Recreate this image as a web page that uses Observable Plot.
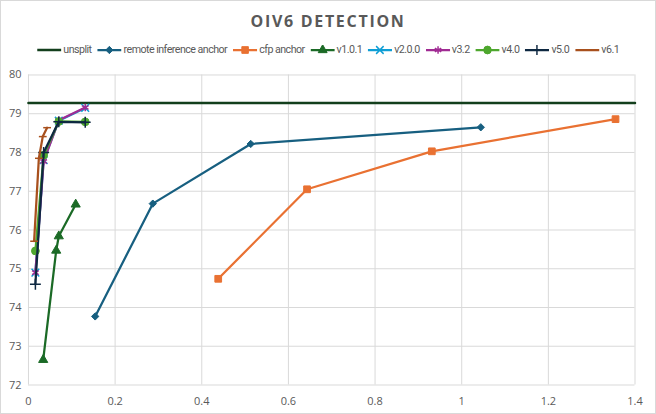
<!DOCTYPE html>
<html><head><meta charset="utf-8">
<script src="https://cdn.jsdelivr.net/npm/d3@7"></script>
<script src="https://cdn.jsdelivr.net/npm/@observablehq/plot@0.6"></script>
<style>
body{margin:0;background:#fff;font-family:"Open Sans",Lato,sans-serif;}
#chart{position:relative;width:656px;height:414px;box-sizing:border-box;border:1px solid #d9d9d9;overflow:hidden;background:#fff;}
#title{position:absolute;top:9px;left:0;width:100%;text-align:center;font-weight:bold;font-size:16px;letter-spacing:1.7px;color:#595959;}
#legendWrap{position:absolute;top:42px;left:0;width:100%;display:flex;justify-content:center;}
#legend{display:inline-flex;align-items:center;gap:6px;font-family:Roboto,"Open Sans",sans-serif;font-size:11px;color:#595959;white-space:nowrap;transform-origin:center center;}
#legend .item{display:flex;align-items:center;gap:2px;}
#plot{position:absolute;top:61px;left:-1px;}
</style></head>
<body>
<div id="chart"><div id="title">OIV6 DETECTION</div><div id="legendWrap"><div id="legend"></div></div><div id="plot"></div></div>
<script>
// ---- data ----
const seriesNames = ["unsplit","remote inference anchor","cfp anchor","v1.0.1","v2.0.0","v3.2","v4.0","v5.0","v6.1"];
const unsplitX = [0, 1.4];
const unsplitY = [79.28, 79.28];
const remoteX = [0.154, 0.287, 0.513, 1.044];
const remoteY = [73.77, 76.68, 78.22, 78.65];
const cfpX = [0.438, 0.643, 0.931, 1.355];
const cfpY = [74.74, 77.05, 78.03, 78.86];
const v101X = [0.034, 0.064, 0.070, 0.109];
const v101Y = [72.65, 75.47, 75.84, 76.66];
const v200X = [0.016, 0.035, 0.070, 0.131];
const v200Y = [74.9, 77.8, 78.82, 79.15];
const v32X = [0.016, 0.035, 0.070, 0.131];
const v32Y = [74.9, 77.77, 78.83, 79.16];
const v40X = [0.016, 0.035, 0.070, 0.131];
const v40Y = [75.46, 77.93, 78.8, 78.79];
const v50X = [0.016, 0.035, 0.070, 0.131];
const v50Y = [74.6, 78.0, 78.79, 78.78];
const v61X = [0.013, 0.024, 0.033, 0.043];
const v61Y = [75.71, 77.85, 78.41, 78.64];
const xTicks = [0, 0.2, 0.4, 0.6, 0.8, 1, 1.2, 1.4];
const yTicks = [72, 73, 74, 75, 76, 77, 78, 79, 80];

// ---- styles ----
const dash = {draw(ctx, size){const w = Math.sqrt(size) * 0.55; ctx.moveTo(-w, 0); ctx.lineTo(w, 0);}};
const styles = {
  "unsplit": {color:"#133f1c", symbol:null, filled:false, width:2.5},
  "remote inference anchor": {color:"#175f80", symbol:"diamond2", filled:true, r:3.3},
  "cfp anchor": {color:"#e97132", symbol:"square", filled:true, r:3.8},
  "v1.0.1": {color:"#1b6a26", symbol:"triangle", filled:true, r:3.4},
  "v2.0.0": {color:"#0f9ed5", symbol:"times", filled:false, r:3.6},
  "v3.2": {color:"#a02b93", symbol:"asterisk", filled:false, r:3.6},
  "v4.0": {color:"#4ea72e", symbol:"circle", filled:true, r:3.9},
  "v5.0": {color:"#0e2841", symbol:"plus", filled:false, r:3.6},
  "v6.1": {color:"#a8501d", symbol:dash, filled:false, r:4}
};
const xs = [unsplitX, remoteX, cfpX, v101X, v200X, v32X, v40X, v50X, v61X];
const ys = [unsplitY, remoteY, cfpY, v101Y, v200Y, v32Y, v40Y, v50Y, v61Y];
const table = seriesNames.map((name, i) => xs[i].map((x, j) => ({series:name, x, y:ys[i][j]})));

const marks = [];
seriesNames.forEach((name, i) => {
  const s = styles[name];
  marks.push(Plot.line(table[i], {x:"x", y:"y", stroke:s.color, strokeWidth:s.width || 2.25}));
  if (s.symbol) {
    marks.push(Plot.dot(table[i], {x:"x", y:"y", symbol:s.symbol, r:s.r,
      fill: s.filled ? s.color : "none", stroke:s.color, strokeWidth: s.filled ? 1 : 1.5}));
  }
});

const plot = Plot.plot({
  width: 656, height: 352,
  marginTop: 12.5, marginBottom: 29, marginLeft: 28, marginRight: 20.5,
  style: {fontSize:"11px", color:"#595959", fontFamily:"'Open Sans', Lato, sans-serif", background:"#fff"},
  x: {domain:[0, 1.4], label:null},
  y: {domain:[72, 80], label:null},
  marks: [
    Plot.gridX(xTicks, {stroke:"#d9d9d9", strokeOpacity:1}),
    Plot.gridY(yTicks, {stroke:"#d9d9d9", strokeOpacity:1}),
    Plot.axisX({ticks:xTicks, tickSize:0, tickPadding:12, label:null, tickFormat: d => String(d)}),
    Plot.axisY({ticks:yTicks, tickSize:0, tickPadding:7, label:null}),
    ...marks
  ]
});
document.getElementById("plot").appendChild(plot);

// ---- legend ----
const legend = d3.select("#legend");
const symMap = {diamond2:d3.symbolDiamond2, square:d3.symbolSquare, triangle:d3.symbolTriangle, times:d3.symbolTimes, asterisk:d3.symbolAsterisk, circle:d3.symbolCircle, plus:d3.symbolPlus};
seriesNames.forEach(name => {
  const s = styles[name];
  const it = legend.append("div").attr("class", "item");
  const sv = it.append("svg").attr("width", 25).attr("height", 10);
  sv.append("line").attr("x1", 0).attr("x2", 25).attr("y1", 5).attr("y2", 5).attr("stroke", s.color).attr("stroke-width", s.width || 2.25);
  if (s.symbol) {
    const type = typeof s.symbol === "string" ? symMap[s.symbol] : s.symbol;
    sv.append("path").attr("transform", "translate(12.5,5)")
      .attr("d", d3.symbol(type, Math.PI * s.r * s.r)())
      .attr("fill", s.filled ? s.color : "none").attr("stroke", s.color).attr("stroke-width", s.filled ? 1 : 1.5);
  }
  it.append("span").text(name);
});
// fit legend to the reference width with tighter letter spacing, then a slight horizontal squeeze
const legNode = document.getElementById("legend");
let ls = 0;
while (legNode.getBoundingClientRect().width > 582 && ls > -0.5) {
  ls -= 0.05;
  legNode.style.letterSpacing = ls + "px";
}
const w = legNode.getBoundingClientRect().width;
if (w > 582) legNode.style.transform = "scaleX(" + (582 / w) + ")";
</script>
</body></html>
